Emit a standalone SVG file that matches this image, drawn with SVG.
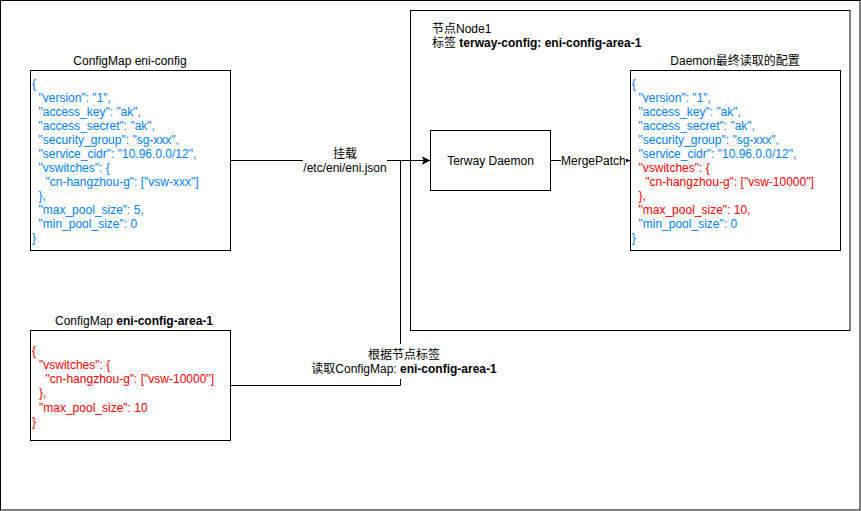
<svg xmlns="http://www.w3.org/2000/svg" width="861" height="511" viewBox="0 0 861 511">
<defs>
<style>
text{font-family:"Liberation Sans","Noto Sans CJK SC",sans-serif;font-size:12px;fill:#000}
.box{fill:#fff;stroke:#000;stroke-width:1}
.line{fill:none;stroke:#000;stroke-width:1}
.b{fill:#007FFF}
.r{fill:#FF0000}
.bold{font-weight:bold}
.mid{text-anchor:middle}
.bg{fill:#fff;stroke:none}
</style>
<marker id="arr" markerWidth="10" markerHeight="10" refX="8" refY="4" orient="auto" markerUnits="userSpaceOnUse">
<path d="M0,0 L8,4 L0,8 L2,4 z" fill="#000"/>
</marker>
<marker id="arrS" markerWidth="6" markerHeight="6" refX="4" refY="2" orient="auto" markerUnits="userSpaceOnUse">
<path d="M0,0 L4,2 L0,4 z" fill="#000"/>
</marker>
</defs>
<rect x="0.5" y="0.5" width="859.5" height="509.5" fill="#fff" stroke="#000"/>

<g id="node1">
<rect class="box" x="410.5" y="10.5" width="439.5" height="320"/>
<text x="432" y="32.5">节点Node1</text>
<text x="432" y="46.5">标签 <tspan class="bold">terway-config: eni-config-area-1</tspan></text>
</g>

<g id="connectors">
<path class="line" d="M230.5,160.5 H430" marker-end="url(#arr)"/>
<path class="line" d="M230.5,385.5 H400.5 V160.5 H430" marker-end="url(#arr)"/>
<path class="line" d="M550.5,160.5 H630" marker-end="url(#arrS)"/>
<rect class="bg" x="303" y="146" width="84" height="28"/>
<text class="mid" x="345" y="157.5">挂载</text>
<text class="mid" x="345" y="171.5">/etc/eni/eni.json</text>
<rect class="bg" x="312" y="344" width="184" height="35"/>
<text class="mid" x="404" y="358.5">根据节点标签</text>
<text class="mid" x="404" y="372.5">读取ConfigMap: <tspan class="bold">eni-config-area-1</tspan></text>
<rect class="bg" x="561" y="152" width="65" height="16"/>
<text x="561" y="164.5">MergePatch</text>
</g>

<g id="eni-config">
<text class="mid" x="130" y="65">ConfigMap eni-config</text>
<rect class="box" x="30.5" y="70.5" width="200" height="180"/>
<text class="b" x="32" y="88.3">{</text>
<text class="b" x="38.5" y="102.3">"version": "1",</text>
<text class="b" x="38.5" y="116.3">"access_key": "ak",</text>
<text class="b" x="38.5" y="130.3">"access_secret": "ak",</text>
<text class="b" x="38.5" y="144.3">"security_group": "sg-xxx",</text>
<text class="b" x="38.5" y="158.3">"service_cidr": "10.96.0.0/12",</text>
<text class="b" x="38.5" y="172.3">"vswitches": {</text>
<text class="b" x="45.5" y="186.3">"cn-hangzhou-g": ["vsw-xxx"]</text>
<text class="b" x="38.5" y="200.3">},</text>
<text class="b" x="38.5" y="214.3">"max_pool_size": 5,</text>
<text class="b" x="38.5" y="228.3">"min_pool_size": 0</text>
<text class="b" x="32" y="242.3">}</text>
</g>

<g id="eni-config-area-1">
<text class="mid" x="134" y="325">ConfigMap <tspan class="bold">eni-config-area-1</tspan></text>
<rect class="box" x="30.5" y="330.5" width="200" height="110"/>
<text class="r" x="32" y="354.5">{</text>
<text class="r" x="39" y="368.8">"vswitches": {</text>
<text class="r" x="45.5" y="383.1">"cn-hangzhou-g": ["vsw-10000"]</text>
<text class="r" x="39" y="397.4">},</text>
<text class="r" x="39" y="411.7">"max_pool_size": 10</text>
<text class="r" x="32" y="426">}</text>
</g>

<g id="terway-daemon">
<rect class="box" x="430.5" y="130.5" width="120" height="60"/>
<text class="mid" x="490.5" y="164.5">Terway Daemon</text>
</g>

<g id="daemon-config">
<text class="mid" x="735" y="65">Daemon最终读取的配置</text>
<rect class="box" x="630.5" y="70.5" width="210" height="180"/>
<text class="b" x="631.7" y="88.3">{</text>
<text class="b" x="638.5" y="102.3">"version": "1",</text>
<text class="b" x="638.5" y="116.3">"access_key": "ak",</text>
<text class="b" x="638.5" y="130.3">"access_secret": "ak",</text>
<text class="b" x="638.5" y="144.3">"security_group": "sg-xxx",</text>
<text class="b" x="638.5" y="158.3">"service_cidr": "10.96.0.0/12",</text>
<text class="r" x="638.5" y="172.3">"vswitches": {</text>
<text class="r" x="645.3" y="186.3">"cn-hangzhou-g": ["vsw-10000"]</text>
<text class="r" x="638.5" y="200.3">},</text>
<text class="r" x="638.5" y="214.3">"max_pool_size": 10,</text>
<text class="b" x="638.5" y="228.3">"min_pool_size": 0</text>
<text class="b" x="631.7" y="242.3">}</text>
</g>
</svg>
